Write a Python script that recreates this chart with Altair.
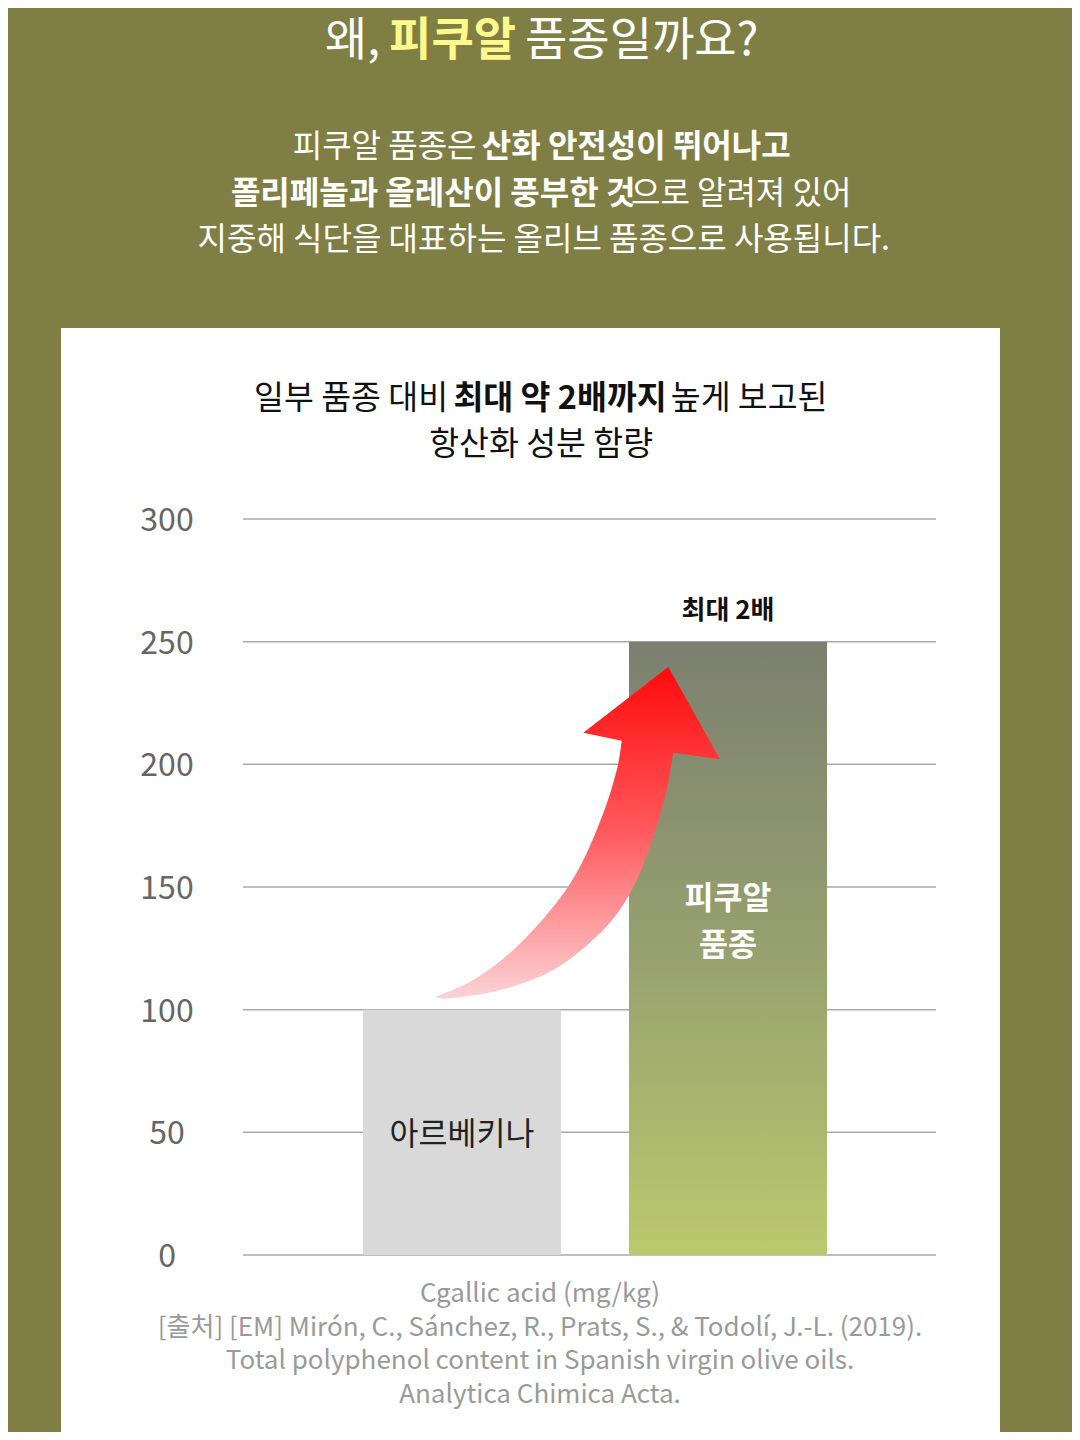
import altair as alt
import pandas as pd

FONT = "Noto Sans CJK KR"

# ---------------- data ----------------
categories = ["아르베키나", "피쿠알"]
values = [100, 250]
bar_labels = ["아르베키나", "피쿠알\n품종"]
top_label = "최대 2배"
y_ticks = [0, 50, 100, 150, 200, 250, 300]

header_segments = [("왜, ", "normal", "#ffffff"), ("피쿠알", "bold", "#fdf98a"), (" 품종일까요?", "normal", "#ffffff")]
para_lines = [
    [("피쿠알 품종은 ", "normal", "#ffffff"), ("산화 안전성이 뛰어나고", "bold", "#ffffff")],
    [("폴리페놀과 올레산이 풍부한 것", "bold", "#ffffff"), ("으로 알려져 있어", "normal", "#ffffff")],
    [("지중해 식단을 대표하는 올리브 품종으로 사용됩니다.", "normal", "#ffffff")],
]
title_lines = [
    [("일부 품종 대비 ", "normal", "#111111"), ("최대 약 2배까지", "bold", "#111111"), (" 높게 보고된", "normal", "#111111")],
    [("항산화 성분 함량", "normal", "#111111")],
]
foot_lines = [
    "Cgallic acid (mg/kg)",
    "[출처] [EM] Mirón, C., Sánchez, R., Prats, S., & Todolí, J.-L. (2019).",
    "Total polyphenol content in Spanish virgin olive oils.",
    "Analytica Chimica Acta.",
]

df = pd.DataFrame({"variety": categories, "value": values, "label": bar_labels})
df["mid"] = df["value"] / 2
grid_df = pd.DataFrame({"value": y_ticks})
one = pd.DataFrame({"k": [0]})

# ---------------- layout ----------------
PW, PH = 704, 736
CX = 297  # horizontal centre of the page, relative to plot origin
OLIVE = "#7f7f45"

yscale = alt.Scale(domain=[0, 300], nice=False, zero=True)
xscale = alt.Scale(domain=categories, paddingInner=0.2556, paddingOuter=0.451)
X = alt.X("variety:N", sort=categories, scale=xscale, axis=None)
Yv = alt.Y("value:Q", scale=yscale, axis=None, title=None)


def est(s, fs):
    w = 0.0
    for ch in s:
        if "\uac00" <= ch <= "\ud7a3":
            w += 0.91
        elif ch == " ":
            w += 0.224
        elif ch.isdigit():
            w += 0.555
        elif ch in ",.":
            w += 0.26
        elif ch == "?":
            w += 0.45
        else:
            w += 0.5
    return w * fs


def text_layer(text, x, y, size, weight="normal", color="#000", align="left"):
    return alt.Chart(one).mark_text(
        text=text, font=FONT, fontSize=size, fontWeight=weight, color=color,
        align=align, baseline="middle"
    ).encode(x=alt.value(x), y=alt.value(y))


def line_layers(segs, y, size):
    total = sum(est(t, size) for t, _, _ in segs)
    x = CX - total / 2
    out = []
    for t, w, c in segs:
        lead = len(t) - len(t.lstrip(" "))
        out.append(text_layer(t.strip(" "), x + est(" " * lead, size), y, size, w, c))
        x += est(t, size)
    return out


def smooth(pts):
    """Catmull-Rom through the outline points -> cubic Bezier path commands."""
    cmds = []
    n = len(pts)
    for i in range(n - 1):
        p0 = pts[i - 1] if i > 0 else pts[i]
        p1, p2 = pts[i], pts[i + 1]
        p3 = pts[i + 2] if i + 2 < n else pts[i + 1]
        c1 = (p1[0] + (p2[0] - p0[0]) / 6, p1[1] + (p2[1] - p0[1]) / 6)
        c2 = (p2[0] - (p3[0] - p1[0]) / 6, p2[1] - (p3[1] - p1[1]) / 6)
        cmds.append("C %.3f %.3f %.3f %.3f %.3f %.3f" % (c1 + c2 + p2))
    return " ".join(cmds)


left_edge = [(-0.864, 1.0), (-0.632, 0.897), (-0.389, 0.715), (-0.147, 0.453), (0.015, 0.210),
             (0.156, -0.113), (0.238, -0.376), (0.268, -0.553)]
head = [(0.035, -0.602), (0.550, -1.0), (0.864, -0.441), (0.581, -0.481)]
right_edge = [(0.581, -0.481), (0.530, -0.214), (0.439, 0.089), (0.318, 0.372), (0.136, 0.614),
              (-0.147, 0.836), (-0.470, 0.958), (-0.773, 1.008), (-0.864, 1.0)]
arrow_path = (
    "M %.3f %.3f " % left_edge[0] + smooth(left_edge) + " "
    + " ".join("L %.3f %.3f" % p for p in head) + " "
    + smooth(right_edge) + " Z"
)

panel = alt.Chart(one).mark_rect(color="#ffffff").encode(
    x=alt.value(-182), x2=alt.value(757), y=alt.value(-191), y2=alt.value(930)
)

grid = alt.Chart(grid_df).mark_rule(color="#a9a9a9", strokeWidth=1.5).encode(
    y=Yv, x=alt.value(0), x2=alt.value(693),
)

ylabels = alt.Chart(grid_df).mark_text(
    font=FONT, fontSize=32, color="#666666", align="center", baseline="middle", dy=2
).encode(y=Yv, x=alt.value(-76), text="value:Q")

bar_gray = alt.Chart(df).transform_filter(alt.datum.variety == categories[0]).mark_bar(
    color="#d9d9d9"
).encode(x=X, y=Yv)

green_grad = alt.Gradient(
    gradient="linear",
    stops=[alt.GradientStop(offset=0, color="#7c7f70"),
           alt.GradientStop(offset=0.5, color="#97a06f"),
           alt.GradientStop(offset=1, color="#bbc96e")],
    x1=0, x2=0, y1=0, y2=1,
)
bar_green = alt.Chart(df).transform_filter(alt.datum.variety == categories[1]).mark_bar(
    color=green_grad
).encode(x=X, y=Yv)

red_grad = alt.Gradient(
    gradient="linear",
    stops=[alt.GradientStop(offset=0, color="#ff0a0a"),
           alt.GradientStop(offset=0.5, color="#ff5a5e"),
           alt.GradientStop(offset=1, color="#fbd3d6")],
    x1=0, x2=0, y1=0, y2=1,
)
arrow = alt.Chart(one).mark_point(
    shape=arrow_path, size=108900, filled=True, fill=red_grad, opacity=1, strokeWidth=0
).encode(x=alt.value(334.5), y=alt.value(313))

Ymid = alt.Y("mid:Q", scale=yscale, axis=None, title=None)
label_gray = alt.Chart(df).transform_filter(alt.datum.variety == categories[0]).mark_text(
    font=FONT, fontSize=31.5, color="#222222", baseline="middle", dy=4
).encode(x=X, y=Ymid, text="label:N")

label_green = alt.Chart(df).transform_filter(alt.datum.variety == categories[1]).mark_text(
    font=FONT, fontSize=31.5, fontWeight="bold", color="#ffffff", baseline="middle",
    lineBreak="\n", lineHeight=47, dy=-48
).encode(x=X, y=Ymid, text="label:N")

label_top = alt.Chart(df).transform_filter(alt.datum.variety == categories[1]).mark_text(
    text=top_label, font=FONT, fontSize=26, fontWeight="bold", color="#111111",
    baseline="middle", dy=-31
).encode(x=X, y=Yv)

texts = []
texts += line_layers(header_segments, -478, 46)
for i, segs in enumerate(para_lines):
    texts += line_layers(segs, -372 + i * 46.5, 32)
for i, segs in enumerate(title_lines):
    texts += line_layers(segs, -120 + i * 46, 32.5)
for i, t in enumerate(foot_lines):
    texts.append(text_layer(t, CX, 775 + i * 33.7, 26, "normal", "#9a9a9a", align="center"))

chart = alt.layer(
    panel, grid, ylabels, bar_gray, bar_green, arrow, label_gray, label_green, label_top, *texts
).properties(
    width=PW, height=PH, background=OLIVE,
    padding={"left": 235, "top": 511, "right": 125, "bottom": 177},
    autosize=alt.AutoSizeParams(type="none"),
).configure_view(stroke=None)

chart.save("out.html", embed_options={"renderer": "svg", "actions": False})
